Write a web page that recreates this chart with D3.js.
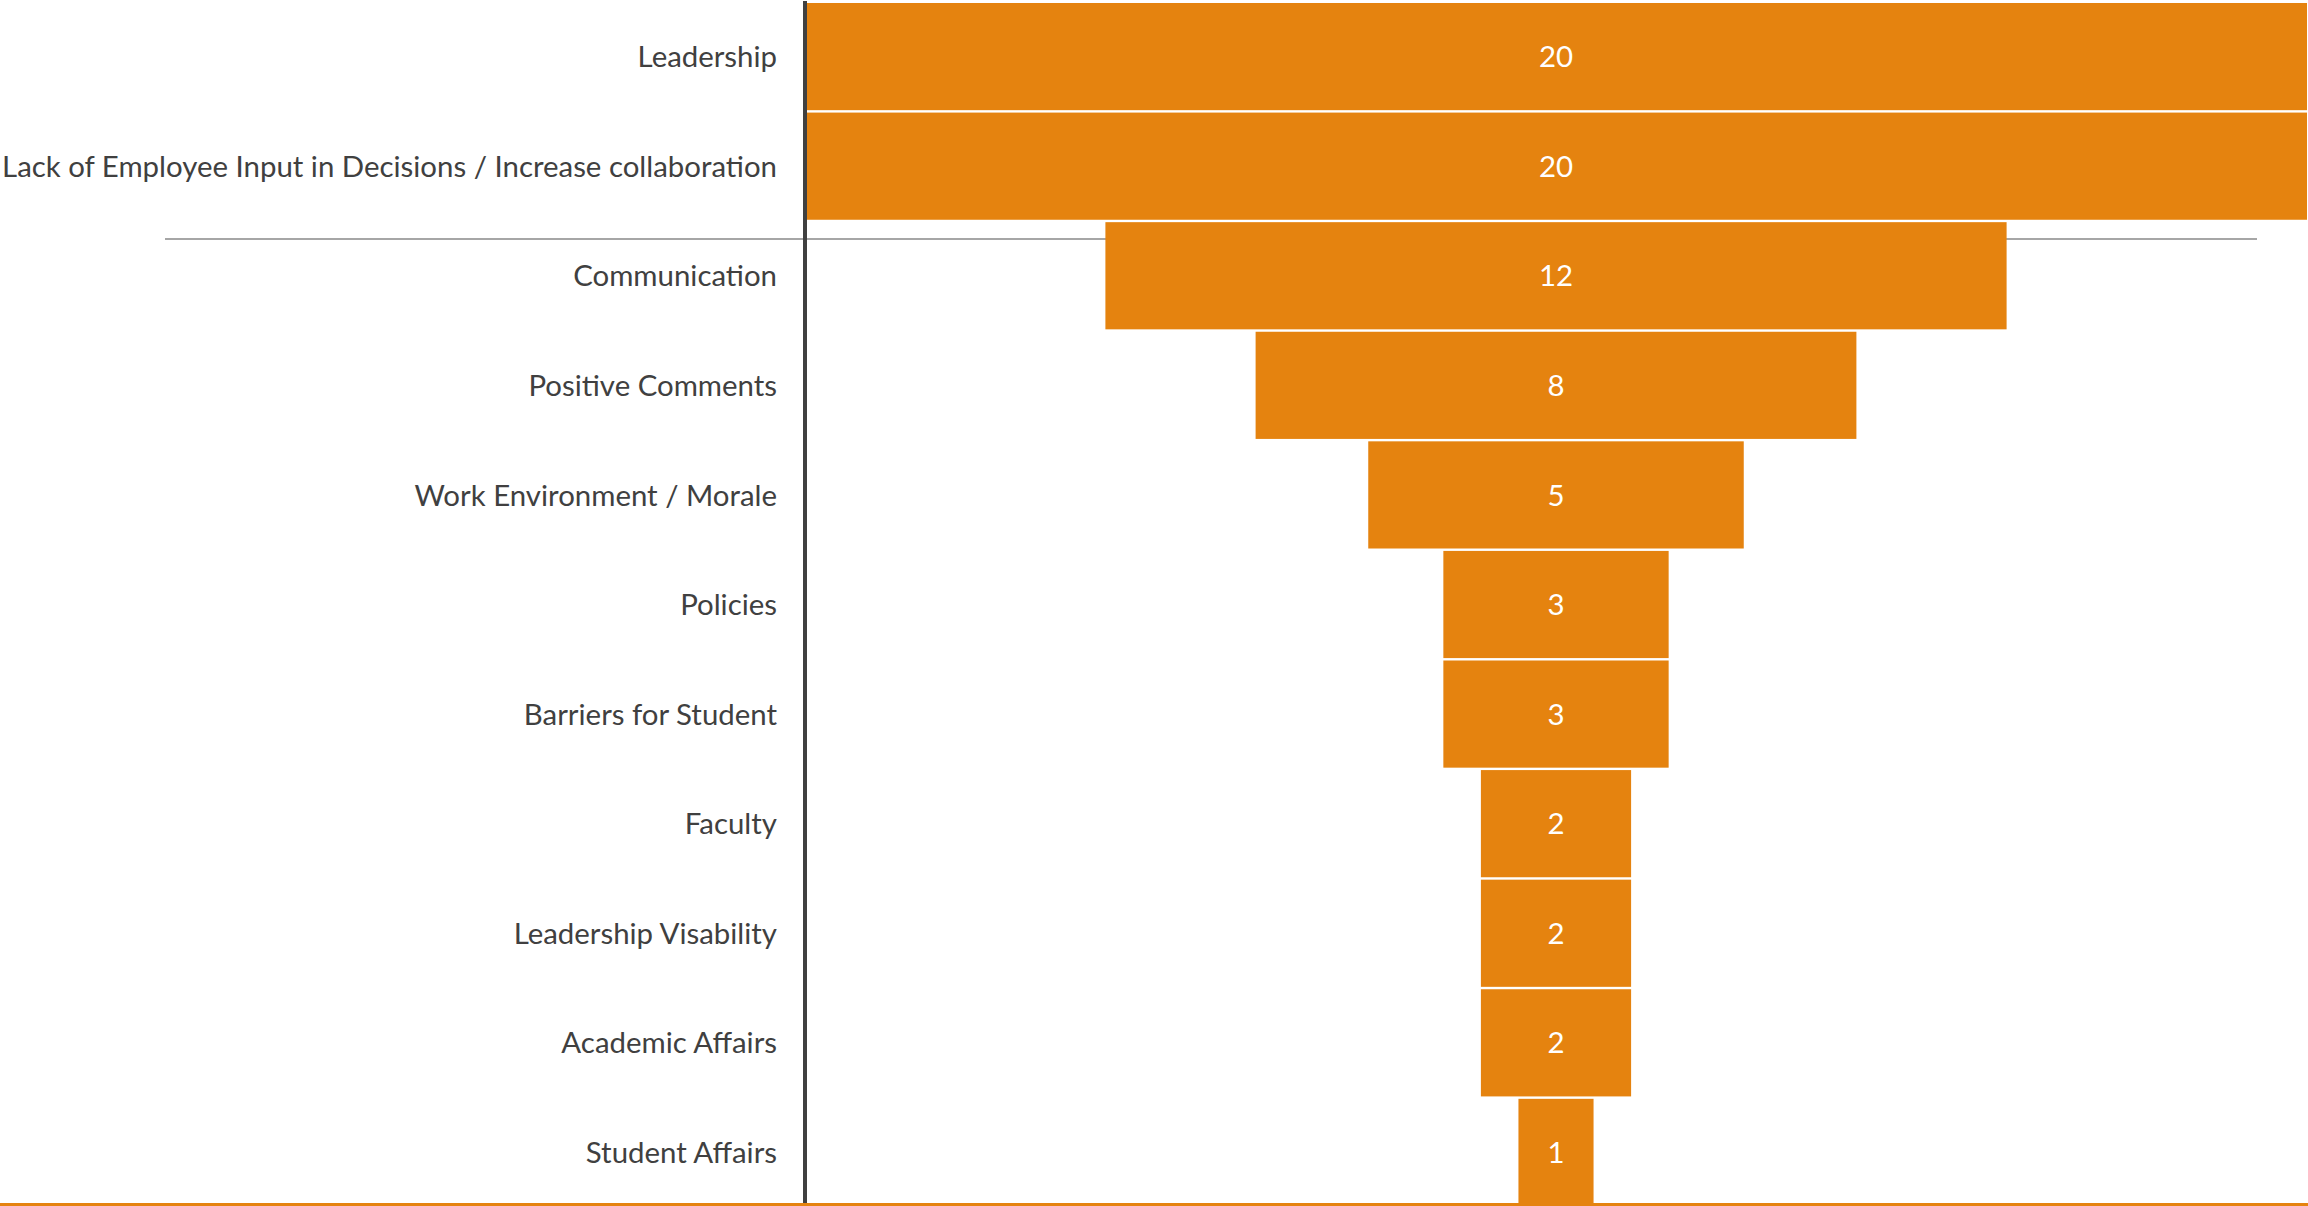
<!DOCTYPE html>
<html>
<head>
<meta charset="utf-8">
<script src="https://cdn.jsdelivr.net/npm/d3@7"></script>
<style>
  html, body { margin: 0; padding: 0; background: #ffffff; overflow: hidden; }
  svg { display: block; }
</style>
</head>
<body>
<svg id="chart" width="2308" height="1206"></svg>
<script>
// Comment themes and how many comments fell into each
const categories = [
  "Leadership",
  "Lack of Employee Input in Decisions / Increase collaboration",
  "Communication",
  "Positive Comments",
  "Work Environment / Morale",
  "Policies",
  "Barriers for Student",
  "Faculty",
  "Leadership Visability",
  "Academic Affairs",
  "Student Affairs"
];
const counts = [20, 20, 12, 8, 5, 3, 3, 2, 2, 2, 1];

const W = 2308, H = 1206;
const barColor = "#E5830F";
const textColor = "#404040";
const fontFamily = "Lato, 'Open Sans', sans-serif";
const fontSize = 29.4;

const svg = d3.select("#chart");

// Funnel: each bar is centred on zero, spanning -v/2 .. +v/2
const maxVal = d3.max(counts);
const x = d3.scaleLinear().domain([-maxVal / 2, maxVal / 2]).range([805, 2307]);
const y = d3.scaleBand().domain(categories).range([3, 1206]).paddingInner(0.022).paddingOuter(0);

// Thin grey rule running across the chart behind the bars
svg.append("line")
  .attr("x1", 165).attr("x2", 2257)
  .attr("y1", 239).attr("y2", 239)
  .attr("stroke", "#a6a6a6").attr("stroke-width", 2);

const plot = svg.append("g");
plot.append("clipPath").attr("id", "plotClip")
  .append("rect").attr("x", 805).attr("y", 0).attr("width", W - 805).attr("height", H);

const rows = categories.map((c, i) => ({ c, v: counts[i] }));

const bars = plot.append("g").attr("clip-path", "url(#plotClip)");
bars.selectAll("rect")
  .data(rows)
  .join("rect")
  .attr("x", d => x(-d.v / 2))
  .attr("width", d => x(d.v / 2) - x(-d.v / 2))
  .attr("y", d => y(d.c))
  .attr("height", y.bandwidth())
  .attr("fill", barColor);

// Value labels centred in each bar
bars.selectAll("text")
  .data(rows)
  .join("text")
  .attr("x", x(0))
  .attr("y", d => y(d.c) + y.bandwidth() / 2)
  .attr("dy", "0.36em")
  .attr("text-anchor", "middle")
  .attr("fill", "#ffffff")
  .attr("font-family", fontFamily)
  .attr("font-size", fontSize)
  .text(d => d.v);

// Category axis on the left
const axis = d3.axisLeft(y).tickSize(0).tickPadding(28);
const axisG = svg.append("g")
  .attr("transform", "translate(805,0)")
  .call(axis);
axisG.select(".domain").remove();
axisG.selectAll("text")
  .attr("fill", textColor)
  .attr("font-family", fontFamily)
  .attr("font-size", fontSize)
  .attr("dy", "0.36em");

// Axis spine
svg.append("rect")
  .attr("x", 803).attr("y", 1)
  .attr("width", 4).attr("height", H - 1)
  .attr("fill", textColor);

// Orange rule along the bottom edge
svg.append("rect")
  .attr("x", 0).attr("y", 1203)
  .attr("width", W).attr("height", 3)
  .attr("fill", barColor);
</script>
</body>
</html>
